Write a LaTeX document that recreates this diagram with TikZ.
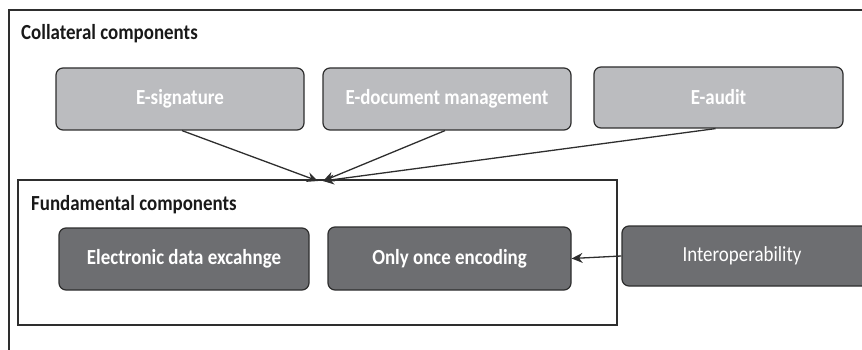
\documentclass[tikz,border=0pt]{standalone}
\usepackage{fontspec}
\setmainfont{Carlito}[FakeStretch=0.88]
\usetikzlibrary{arrows.meta}
\definecolor{lightbox}{HTML}{BBBCBF}
\definecolor{darkbox}{HTML}{6D6E71}
\definecolor{edge}{HTML}{2E2E2E}
\tikzset{
  lightcomp/.style={draw=edge, line width=1.2pt, rounded corners=7pt, fill=lightbox,
    text=white, font=\fontsize{21.5}{24}\selectfont\bfseries, inner sep=0pt},
  darkcomp/.style={draw=edge, line width=1.2pt, rounded corners=7pt, fill=darkbox,
    text=white, font=\fontsize{21.5}{24}\selectfont\bfseries, inner sep=0pt},
  grouptitle/.style={anchor=west, font=\fontsize{21.5}{24}\selectfont\bfseries, text=black!90, inner sep=0pt},
  conn/.style={draw=edge, line width=1.3pt, -{Stealth[length=11pt,width=10pt]}},
}
\begin{document}
\begin{tikzpicture}[x=1pt,y=-1pt]
\useasboundingbox (0,0) rectangle (862,350);
\clip (0,0) rectangle (862,350);
% outer group (collateral)
\draw[edge, line width=2pt] (9,352) -- (9,10) -- (864,10);
\node[grouptitle] (coltitle) at (21,34) {Collateral components};
% inner group (fundamental)
\draw[edge, line width=1.8pt] (18,180) rectangle (617,325);
\node[grouptitle] (fundtitle) at (31,205) {Fundamental components};
% collateral components
\node[lightcomp, minimum width=248pt, minimum height=62pt] (esig) at (180,99) {E-signature};
\node[lightcomp, minimum width=248pt, minimum height=62pt] (edoc) at (447,99) {E-document management};
\node[lightcomp, minimum width=249pt, minimum height=61pt] (eaudit) at (718.5,97.5) {E-audit};
% fundamental components
\node[darkcomp, minimum width=250pt, minimum height=62pt] (ede) at (184,259) {Electronic data excahnge};
\node[darkcomp, minimum width=243pt, minimum height=63pt] (once) at (449.5,258.5) {Only once encoding};
\node[darkcomp, font=\fontsize{21.5}{24}\selectfont, minimum width=248pt, minimum height=60pt] (interop) at (746,256) {\hspace*{-4pt}Interoperability\hspace*{4pt}};
% connectors
\coordinate (t1) at (318,181);
\coordinate (t2) at (323,181);
\draw[conn] ([xshift=2pt]esig.south) -- (t1);
\draw[conn] ([xshift=-2pt]edoc.south) -- (t2);
\draw[conn] ([xshift=-3pt]eaudit.south) -- (t2);
\draw[conn] (interop.west) -- (once.east);
\end{tikzpicture}
\end{document}
